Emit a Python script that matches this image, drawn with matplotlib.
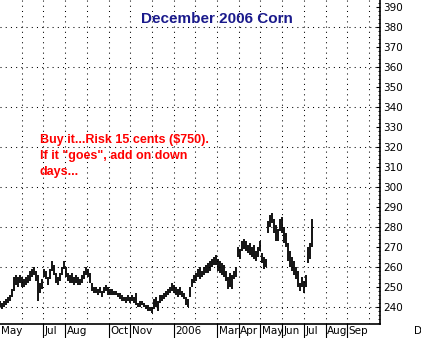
import numpy as np
import matplotlib
matplotlib.use("Agg")
import matplotlib.pyplot as plt
import matplotlib.transforms as mtransforms

# daily bars sampled every 2 trading days, May 2005 -> Jul 2006 (cents/bu)
highs = [243, 242, 243, 244, 245, 246, 249, 255, 256, 255,
         256, 255, 254, 255, 256, 258, 259, 260, 258, 256,
         252, 254, 259, 258, 255, 259, 263, 261, 257, 255,
         257, 260, 263, 260, 257, 256, 257, 255, 256, 255,
         254, 256, 258, 260, 259, 257, 252, 250, 250, 249,
         250, 248, 250, 251, 250, 249, 249, 248, 248, 247,
         247, 246, 245, 245, 246, 245, 246, 245, 247, 242,
         243, 243, 242, 241, 241, 240, 240, 244, 245, 243,
         246, 246, 247, 248, 249, 250, 252, 251, 250, 249,
         250, 248, 247, 245, 244, 250, 254, 256, 257, 259,
         260, 258, 260, 261, 262, 263, 264, 265, 266, 264,
         263, 262, 261, 258, 255, 257, 256, 258, 260, 270,
         269, 273, 274, 273, 271, 272, 270, 271, 268, 270,
         273, 267, 265, 264, 283, 286, 287, 284, 281, 279,
         284, 285, 280, 277, 272, 268, 265, 263, 260, 258,
         252, 255, 253, 256, 270, 272, 284]
lows = [240, 239, 240, 241, 242, 243, 245, 248, 251, 250,
        252, 250, 250, 251, 252, 253, 255, 256, 253, 243,
        247, 249, 255, 254, 251, 254, 258, 256, 252, 251,
        253, 256, 259, 255, 253, 252, 252, 251, 252, 251,
        251, 252, 254, 256, 255, 252, 248, 247, 247, 246,
        247, 245, 247, 248, 246, 246, 246, 246, 246, 245,
        244, 243, 243, 242, 243, 242, 243, 242, 241, 240,
        240, 241, 240, 239, 238, 238, 237, 239, 240, 238,
        242, 243, 244, 245, 246, 247, 248, 247, 246, 245,
        246, 245, 244, 241, 240, 245, 250, 252, 253, 255,
        254, 255, 256, 257, 257, 258, 260, 261, 261, 258,
        257, 256, 255, 253, 249, 250, 249, 254, 255, 265,
        264, 268, 269, 268, 267, 266, 265, 264, 263, 265,
        268, 262, 259, 260, 277, 280, 282, 277, 273, 273,
        278, 277, 272, 270, 263, 260, 258, 256, 254, 250,
        248, 250, 247, 250, 262, 264, 270]
bar_step = 2

month_len = 21.7
month_labels = ['May', '', 'Jul', 'Aug', '', 'Oct', 'Nov', '', '2006', '',
                'Mar', 'Apr', 'May', 'Jun', 'Jul', 'Aug', 'Sep', '', '', 'D']

title = 'December 2006 Corn'
note = 'Buy it...Risk 15 cents ($750).\nIf it "goes", add on down\ndays...'

fig = plt.figure(figsize=(4.21, 3.38), dpi=100)
ax = fig.add_axes([0, 14 / 338, 380 / 421, 324 / 338])

days = np.arange(len(highs)) * bar_step
ax.vlines(days, lows, highs, color='black', linewidth=1.3)

ax.set_xlim(0, 380)
ax.set_ylim(231.5, 393.5)

# dotted grid
for v in range(240, 390, 20):
    ax.axhline(v, color='black', lw=0.75, ls=(0, (1, 4)), zorder=0)
for k in range(1, 18):
    ax.axvline(k * month_len, color='black', lw=0.75, ls=(0, (1, 4)), zorder=0)

for s in ['left', 'top']:
    ax.spines[s].set_visible(False)
ax.spines['right'].set_linewidth(1.2)
ax.spines['bottom'].set_linewidth(1.2)

ax.yaxis.tick_right()
ax.set_yticks(range(240, 391, 10))
ax.set_yticks(range(232, 394, 2), minor=True)
ax.tick_params(axis='y', which='major', direction='in', length=3, width=0.8,
               pad=2, labelsize=7.5)
ax.tick_params(axis='y', which='minor', direction='in', length=1.6, width=0.6)
ax.set_xticks([])

# month labels with separators under the axis
trans = mtransforms.blended_transform_factory(ax.transData, ax.transAxes)
for k, lab in enumerate(month_labels):
    if not lab:
        continue
    x = k * month_len
    if k > 0 and lab != 'D':
        ax.plot([x, x], [0, -14 / 324], transform=trans, color='black',
                lw=0.8, clip_on=False)
    ax.text(x + 1.5, -0.006, lab, transform=trans, ha='left', va='top',
            fontsize=7.5, clip_on=False)

ax.text(217, 384, title, ha='center', va='center', color='#1a1a8c',
        fontsize=11, fontweight='bold', family='Liberation Sans')
ax.text(40, 326.5, note, ha='left', va='top', color='red', fontsize=9,
        fontweight='bold', family='Liberation Sans', linespacing=1.45)

plt.savefig('out.png', dpi=100)
